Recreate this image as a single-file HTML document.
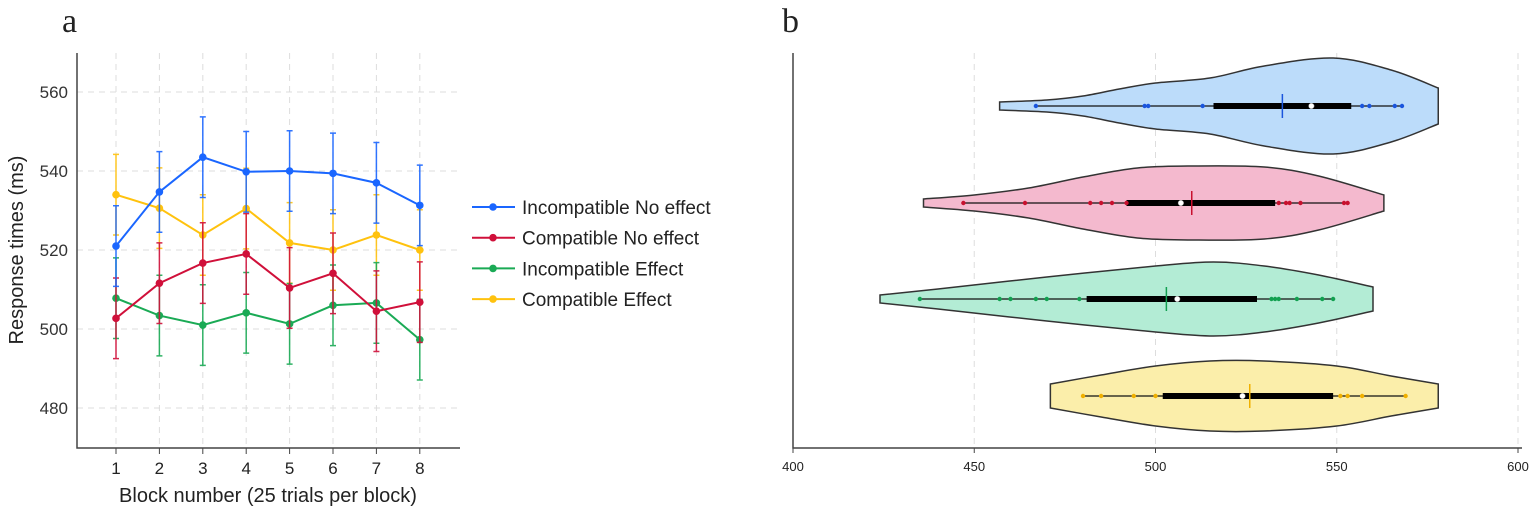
<!DOCTYPE html>
<html><head><meta charset="utf-8"><style>
body{margin:0;background:#fff;}
svg{display:block;font-family:"Liberation Sans",sans-serif;}
</style></head><body>
<svg id="s" width="1535" height="511" viewBox="0 0 1535 511" xmlns="http://www.w3.org/2000/svg">
<text x="62" y="32" font-family="Liberation Serif,serif" font-size="34" fill="#222">a</text>
<text x="782" y="32" font-family="Liberation Serif,serif" font-size="34" fill="#222">b</text>
<g id="ga"></g><g id="gb"></g>
</svg>
<script>
const NS="http://www.w3.org/2000/svg";
function el(p,t,a,txt){const e=document.createElementNS(NS,t);for(const k in a)e.setAttribute(k,a[k]);if(txt!=null)e.textContent=txt;p.appendChild(e);return e;}
// Panel a
const ga=document.getElementById('ga');
const X=i=>116+(i-1)*43.4, Y=v=>329-(v-500)*3.95;
for(let v=480;v<=560;v+=20){el(ga,'line',{x1:77,x2:460,y1:Y(v),y2:Y(v),stroke:'#ddd','stroke-dasharray':'6,5'});
el(ga,'text',{x:68,y:Y(v)+6,'text-anchor':'end','font-size':17,fill:'#333'},v);}
for(let i=1;i<=8;i++){el(ga,'line',{x1:X(i),x2:X(i),y1:53,y2:448,stroke:'#ddd','stroke-dasharray':'6,5'});
el(ga,'line',{x1:X(i),x2:X(i),y1:448,y2:454,stroke:'#444'});
el(ga,'text',{x:X(i),y:474,'text-anchor':'middle','font-size':17,fill:'#222'},i);}
el(ga,'path',{d:'M77,53V448H460',fill:'none',stroke:'#444','stroke-width':1.5});
el(ga,'text',{x:268,y:502,'text-anchor':'middle','font-size':20,fill:'#222'},'Block number (25 trials per block)');
el(ga,'text',{x:0,y:0,transform:'translate(23,250) rotate(-90)','text-anchor':'middle','font-size':20,fill:'#222'},'Response times (ms)');
const S=[
['#ffc20e',[534,530.6,523.8,530.5,521.8,520,523.8,520]],
['#1aaa55',[507.8,503.4,501,504.1,501.3,506,506.6,497.3]],
['#d0103a',[502.7,511.6,516.7,519,510.4,514.1,504.5,506.8]],
['#1a66ff',[521,534.7,543.5,539.8,540,539.4,537,531.3]]];
S.forEach(([c,d])=>{
 d.forEach((v,i)=>{const x=X(i+1);el(ga,'path',{d:`M${x},${Y(v+10.2)}V${Y(v-10.2)}M${x-3},${Y(v+10.2)}h6M${x-3},${Y(v-10.2)}h6`,stroke:c,'stroke-width':1.5,opacity:.9});});
 el(ga,'polyline',{points:d.map((v,i)=>X(i+1)+','+Y(v)).join(' '),fill:'none',stroke:c,'stroke-width':2});
 d.forEach((v,i)=>el(ga,'circle',{cx:X(i+1),cy:Y(v),r:3.8,fill:c}));
});
const L=[['#1a66ff','Incompatible No effect'],['#d0103a','Compatible No effect'],['#1aaa55','Incompatible Effect'],['#ffc20e','Compatible Effect']];
L.forEach(([c,t],k)=>{const y=207+k*30.7;el(ga,'line',{x1:472,x2:515,y1:y,y2:y,stroke:c,'stroke-width':2});el(ga,'circle',{cx:493,cy:y,r:3.8,fill:c});
el(ga,'text',{x:522,y:y+7,'font-size':19,fill:'#222'},t);});
// Panel b
const gb=document.getElementById('gb');
const V=v=>793+(v-400)*3.625;
[400,450,500,550,600].forEach(v=>{el(gb,'line',{x1:V(v),x2:V(v),y1:53,y2:448,stroke:'#ddd','stroke-dasharray':'6,5'});
el(gb,'line',{x1:V(v),x2:V(v),y1:448,y2:453,stroke:'#444'});
el(gb,'text',{x:V(v),y:471,'text-anchor':'middle','font-size':13,fill:'#222'},v);});
el(gb,'path',{d:'M793,53V448H1522',fill:'none',stroke:'#444','stroke-width':1.5});
function smooth(pts){let d='M'+pts[0][0]+','+pts[0][1];
 for(let i=0;i<pts.length-1;i++){const p0=pts[Math.max(0,i-1)],p1=pts[i],p2=pts[i+1],p3=pts[Math.min(pts.length-1,i+2)];
 d+=`C${p1[0]+(p2[0]-p0[0])/6},${p1[1]+(p2[1]-p0[1])/6} ${p2[0]-(p3[0]-p1[0])/6},${p2[1]-(p3[1]-p1[1])/6} ${p2[0]},${p2[1]}`;}return d;}
const VI=[
{cy:106,fill:'#bcdcfa',c:'#1a55dd',sh:[[457,4],[470,6],[480,10],[490,17],[500,23],[515,28],[530,40],[549,48],[565,36],[578,18]],
 w:[467,568],b:[516,554],md:543,mn:535,p:[467,497,498,513,557,559,566,568]},
{cy:203,fill:'#f4b9ce',c:'#c8102e',sh:[[436,4],[450,8],[465,15],[480,26],[495,35],[510,37],[530,36],[545,27],[563,8]],
 w:[447,553],b:[492,533],md:507,mn:510,p:[447,464,482,485,488,492,534,536,537,540,552,553]},
{cy:299,fill:'#b3ecd5',c:'#12a050',sh:[[424,4],[440,10],[470,22],[500,33],[516,37],[530,33],[545,24],[560,12]],
 w:[435,549],b:[481,528],md:506,mn:503,p:[435,457,460,467,470,479,532,533,534,539,546,549]},
{cy:396,fill:'#fbeeaa',c:'#f0b000',sh:[[471,12],[485,21],[500,30],[515,35],[530,35],[550,30],[565,20],[578,12]],
 w:[480,569],b:[502,549],md:524,mn:526,p:[480,485,494,500,551,553,557,569]}];
VI.forEach(o=>{
 const top=o.sh.map(([v,h])=>[V(v),o.cy-h]);const bot=o.sh.slice().reverse().map(([v,h])=>[V(v),o.cy+h]);
 let d=smooth(top);d+='L'+bot[0][0]+','+bot[0][1]+smooth(bot).replace(/^M[^C]*/,'')+'Z';
 el(gb,'path',{d,fill:o.fill,stroke:'#333','stroke-width':1.5});
 el(gb,'line',{x1:V(o.w[0]),x2:V(o.w[1]),y1:o.cy,y2:o.cy,stroke:'#111','stroke-width':1.2});
 el(gb,'rect',{x:V(o.b[0]),y:o.cy-3,width:V(o.b[1])-V(o.b[0]),height:6,fill:'#000'});
 o.p.forEach(v=>el(gb,'circle',{cx:V(v),cy:o.cy,r:2.2,fill:o.c}));
 el(gb,'line',{x1:V(o.mn),x2:V(o.mn),y1:o.cy-12,y2:o.cy+12,stroke:o.c,'stroke-width':1.5});
 el(gb,'circle',{cx:V(o.md),cy:o.cy,r:2.8,fill:'#fff',stroke:'#888','stroke-width':.5});
});
</script>
</body></html>
